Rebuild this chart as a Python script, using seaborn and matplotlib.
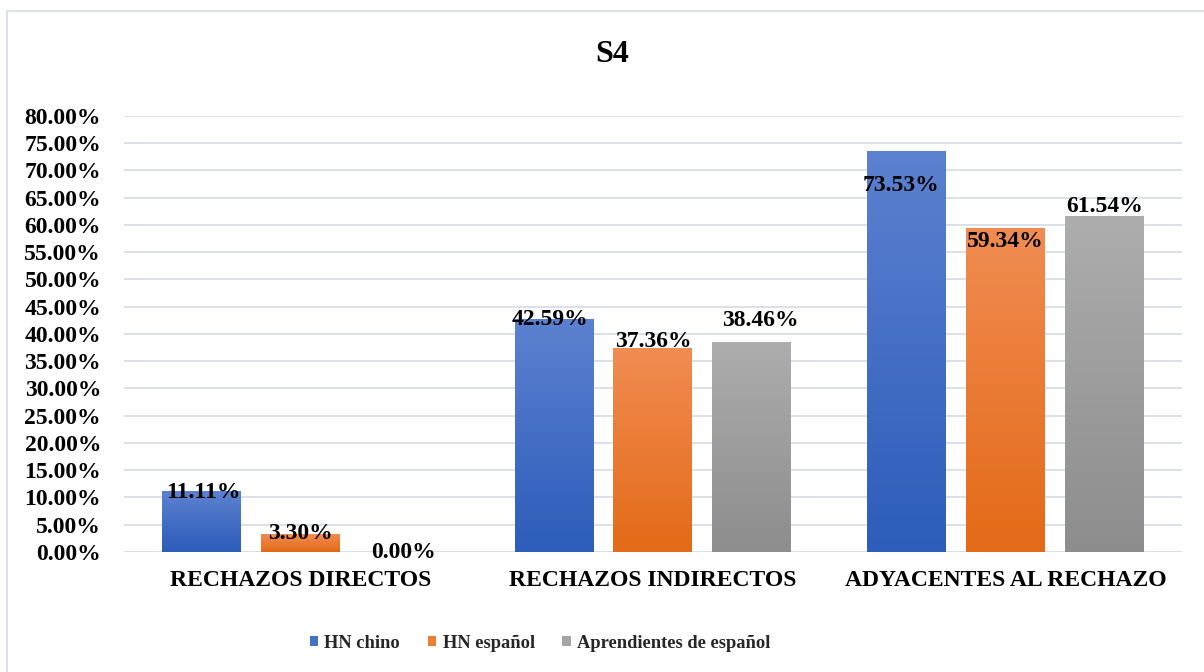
import numpy as np
import pandas as pd
import matplotlib
matplotlib.use("Agg")
import matplotlib.pyplot as plt
import seaborn as sns
from matplotlib.colors import LinearSegmentedColormap
from matplotlib.patches import Patch, Rectangle
from matplotlib.ticker import FuncFormatter, MultipleLocator

# Data (percentages)
categories = ["RECHAZOS DIRECTOS", "RECHAZOS INDIRECTOS", "ADYACENTES AL RECHAZO"]
groups = ["HN chino", "HN español", "Aprendientes de español"]
hn_chino = [11.11, 42.59, 73.53]
hn_espanol = [3.30, 37.36, 59.34]
aprendientes = [0.00, 38.46, 61.54]
title = "S4"

df = pd.DataFrame({
    "categoria": categories * 3,
    "grupo": np.repeat(groups, len(categories)),
    "valor": hn_chino + hn_espanol + aprendientes,
})

# Styling
base_colors = {"HN chino": "#4472c4", "HN español": "#ed7d31",
               "Aprendientes de español": "#a5a5a5"}
# gradient (bottom, top) for each series
gradients = {"HN chino": ("#2d5cba", "#5c81d0"),
             "HN español": ("#e36a17", "#f18c52"),
             "Aprendientes de español": ("#8d8d8d", "#adadad")}
# per-label nudges in pixels (dx, dy) relative to the bar top, baseline-aligned
label_nudges = {
    "HN chino": [(2, -7), (-4, -5), (-6, -40)],
    "HN español": [(0, -5), (0, 1), (0, -18)],
    "Aprendientes de español": [(4, -6), (9, 16), (0, 5)],
}
grid_color = "#d9dde6"

sns.set_theme(style="white")
plt.rcParams["font.family"] = ["Liberation Serif", "DejaVu Serif"]
plt.rcParams["font.weight"] = "bold"

fig = plt.figure(figsize=(12.04, 6.72), dpi=100)
ax = fig.add_axes([0.103, 0.1786, 0.8787, 0.6488])

sns.barplot(data=df, x="categoria", y="valor", hue="grupo",
            order=categories, hue_order=groups, palette=base_colors,
            saturation=1, width=0.84, gap=0.2, errorbar=None,
            legend=False, ax=ax, zorder=2)

# Gradient fill for each bar
ramp = np.linspace(0, 1, 256).reshape(-1, 1)
for container, grp in zip(ax.containers, groups):
    cmap = LinearSegmentedColormap.from_list(grp, list(gradients[grp]))
    vals = container.datavalues
    for bar, v, (dx, dy) in zip(container, vals, label_nudges[grp]):
        x, y, w, h = bar.get_x(), bar.get_y(), bar.get_width(), bar.get_height()
        if h > 0:
            ax.imshow(ramp, extent=[x, x + w, y, y + h], origin="lower",
                      aspect="auto", cmap=cmap, zorder=2.5, interpolation="bilinear")
        bar.set_facecolor("none")
        bar.set_edgecolor("none")
        ax.annotate(f"{v:.2f}%", xy=(x + w / 2, v), xytext=(dx, dy),
                    textcoords="offset pixels", ha="center", va="baseline",
                    fontsize=17, fontweight="bold", color="black", zorder=5)

ax.set_xlim(-0.5, len(categories) - 0.5)
ax.set_ylim(0, 80)
ax.yaxis.set_major_locator(MultipleLocator(5))
ax.yaxis.set_major_formatter(FuncFormatter(lambda v, p: f"{v:.2f}%"))
ax.yaxis.grid(True, color=grid_color, lw=1.3, zorder=0)
ax.xaxis.grid(False)
ax.set_axisbelow(True)
for s in ax.spines.values():
    s.set_visible(False)
ax.axhline(0, color=grid_color, lw=1.3, zorder=1)
ax.tick_params(axis="y", length=0, pad=16.5, labelsize=17)
ax.tick_params(axis="x", length=0, pad=13, labelsize=17)
for t in ax.get_xticklabels() + ax.get_yticklabels():
    t.set_fontweight("bold")
    t.set_color("black")
ax.set_xlabel("")
ax.set_ylabel("")

# Title
fig.text(612 / 1204, 1 - 62 / 672, title, ha="center", va="baseline",
         fontsize=23, fontweight="bold", color="black")

# Legend
handles = [Patch(facecolor=base_colors[g], edgecolor="none", label=g) for g in groups]
fig.legend(handles=handles, loc="center", bbox_to_anchor=(540 / 1204, 1 - 643 / 672),
           ncol=3, frameon=False, handlelength=0.45, handleheight=0.45,
           handletextpad=0.35, columnspacing=1.5,
           prop={"family": "Liberation Serif", "weight": "bold", "size": 13.3})

# Chart frame
fig.patches.append(Rectangle((7 / 1204, -0.1), 1.2, 1 - 11 / 672 + 0.1,
                             transform=fig.transFigure, fill=False,
                             edgecolor="#dde1e8", lw=1.5, zorder=0))

fig.savefig("out.png", dpi=100)
